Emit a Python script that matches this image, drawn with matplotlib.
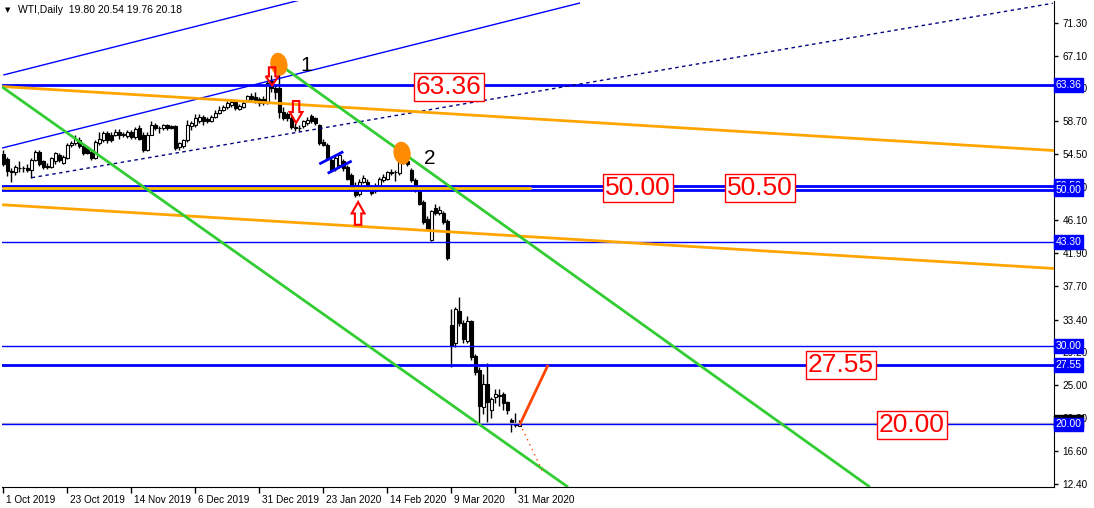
import numpy as np
import matplotlib
matplotlib.use("Agg")
import matplotlib.pyplot as plt
import matplotlib.transforms as mtransforms
from matplotlib.patches import Ellipse, Polygon

plt.rcParams["font.family"] = ["Liberation Sans", "DejaVu Sans"]

# WTI daily candles, one per trading day from 1 Oct 2019 (bar 0) to 1 Apr 2020
opens = np.array([
    54.5, 53.9, 52.4, 52.2, 52.8, 52.7, 52.7, 52.5, 53.8, 54.8,
    53.6, 52.9, 52.9, 53.6, 54.4, 53.4, 54.0, 55.7, 55.9, 56.3,
    55.5, 55.3, 54.8, 54.0, 55.9, 56.3, 57.2, 57.0, 57.0, 57.4,
    57.0, 56.8, 57.4, 56.7, 57.8, 57.0, 55.0, 57.0, 58.2, 57.8,
    57.8, 58.2, 58.1, 58.1, 55.4, 55.5, 56.3, 58.1, 58.3, 58.7,
    59.2, 59.0, 58.8, 59.3, 59.8, 60.2, 60.5, 60.8, 61.2, 60.3,
    60.6, 61.4, 61.9, 61.8, 61.6, 61.5, 61.1, 63.9, 63.0, 62.9,
    59.9, 59.7, 59.1, 58.0, 57.9, 58.1, 58.5, 59.4, 59.1, 58.2,
    56.1, 55.7, 53.8, 52.7, 53.1, 53.6, 52.9, 51.9, 50.6, 49.4,
    51.0, 51.0, 50.4, 49.8, 50.2, 51.2, 51.4, 52.1, 52.2, 52.1,
    53.9, 53.6, 52.5, 51.2, 49.9, 48.4, 46.3, 43.6, 47.6, 47.0,
    47.0, 46.0, 32.7, 30.4, 34.5, 33.0, 30.6, 33.2, 28.7, 27.0,
    22.2, 25.2, 21.9, 23.5, 23.6, 23.9, 22.9, 20.6, 20.0, 19.80])
highs = np.array([
    55.0, 54.1, 52.8, 53.1, 53.6, 53.0, 53.2, 54.0, 55.0, 55.0,
    53.8, 53.4, 54.2, 54.8, 54.6, 54.4, 55.9, 56.2, 56.9, 56.7,
    55.7, 55.5, 55.1, 56.3, 57.4, 57.5, 57.5, 57.3, 57.7, 57.7,
    57.3, 57.6, 57.6, 58.0, 58.3, 57.3, 57.3, 58.7, 58.5, 58.1,
    58.4, 58.4, 58.3, 58.2, 56.1, 56.5, 58.9, 58.8, 59.7, 59.6,
    59.5, 59.3, 59.5, 60.2, 60.7, 60.8, 61.3, 61.5, 61.4, 60.9,
    61.3, 62.1, 62.3, 62.4, 61.8, 61.9, 64.0, 64.6, 63.3, 65.9,
    60.5, 59.9, 59.4, 58.5, 58.3, 58.9, 59.2, 59.6, 59.3, 58.4,
    56.4, 55.9, 54.1, 54.3, 54.7, 53.9, 53.1, 52.1, 50.9, 51.3,
    51.9, 51.3, 50.6, 50.8, 51.6, 52.0, 52.4, 52.6, 52.5, 53.8,
    54.4, 54.0, 52.8, 51.5, 50.1, 48.7, 46.6, 47.4, 48.2, 47.9,
    47.3, 46.2, 34.8, 35.0, 36.3, 33.4, 33.8, 33.4, 29.0, 27.3,
    26.5, 27.9, 23.5, 24.5, 24.5, 24.2, 23.0, 20.8, 21.5, 20.54])
lows = np.array([
    53.0, 51.7, 51.0, 51.9, 52.2, 52.3, 52.2, 51.5, 53.6, 53.0,
    52.6, 52.6, 52.7, 53.3, 53.5, 53.2, 53.9, 55.4, 55.7, 55.3,
    54.4, 54.5, 53.8, 53.9, 55.7, 56.1, 56.0, 56.1, 56.8, 56.4,
    56.7, 56.6, 56.5, 56.5, 56.3, 54.8, 54.9, 56.9, 57.6, 57.2,
    57.6, 57.6, 57.7, 55.0, 55.1, 55.3, 56.1, 57.6, 58.0, 58.5,
    58.3, 58.5, 58.6, 59.1, 59.6, 60.0, 60.3, 60.6, 60.2, 60.1,
    60.4, 61.2, 61.3, 61.0, 60.7, 60.8, 60.9, 62.4, 61.6, 59.1,
    58.9, 58.8, 57.7, 57.5, 57.5, 57.8, 58.3, 58.5, 58.3, 55.7,
    55.5, 53.8, 52.2, 52.4, 52.9, 52.4, 51.2, 50.2, 49.1, 49.2,
    50.8, 50.2, 49.3, 49.6, 50.0, 51.0, 51.2, 51.9, 51.1, 51.9,
    53.3, 53.0, 51.0, 49.7, 48.0, 45.6, 44.8, 43.4, 46.8, 46.7,
    45.6, 41.0, 27.3, 29.9, 32.6, 30.4, 30.4, 28.2, 26.3, 20.0,
    21.3, 20.3, 20.8, 22.7, 22.4, 21.9, 21.4, 19.0, 19.7, 19.76])
closes = np.array([
    53.3, 52.4, 52.2, 52.9, 52.7, 52.8, 52.5, 53.8, 54.8, 53.3,
    52.9, 53.0, 54.0, 54.6, 53.8, 54.2, 55.7, 56.0, 56.5, 55.5,
    54.6, 54.7, 54.0, 56.1, 56.5, 57.2, 56.3, 56.3, 57.4, 57.0,
    57.0, 57.4, 56.7, 57.7, 56.5, 55.0, 57.0, 58.2, 57.8, 57.8,
    58.2, 57.8, 57.9, 55.3, 55.9, 56.3, 58.2, 58.5, 59.1, 59.2,
    58.7, 58.7, 59.3, 59.8, 60.2, 60.6, 61.0, 61.2, 60.4, 60.7,
    61.1, 61.9, 61.5, 61.2, 61.1, 61.0, 63.6, 63.0, 62.4, 59.9,
    59.1, 59.1, 58.0, 57.9, 57.8, 58.7, 58.9, 58.7, 58.5, 55.9,
    55.7, 54.0, 52.5, 54.0, 54.4, 52.7, 51.4, 50.4, 49.3, 51.0,
    51.5, 50.4, 49.5, 50.5, 51.4, 51.6, 52.2, 52.2, 52.3, 53.6,
    53.8, 53.2, 51.2, 49.9, 48.2, 45.9, 45.0, 47.2, 47.0, 47.4,
    45.8, 41.3, 30.0, 34.7, 33.0, 30.9, 33.2, 28.6, 26.7, 22.3,
    25.2, 22.9, 23.3, 23.9, 23.8, 22.7, 21.8, 20.0, 19.9, 20.18])

date_ticks = [0, 16, 32, 48, 64, 80, 96, 112, 128]
date_labels = ["1 Oct 2019", "23 Oct 2019", "14 Nov 2019", "6 Dec 2019", "31 Dec 2019",
               "23 Jan 2020", "14 Feb 2020", "9 Mar 2020", "31 Mar 2020"]
price_ticks = [71.30, 67.10, 62.90, 58.70, 54.50, 50.30, 46.10, 41.90, 37.70,
               33.40, 29.20, 25.00, 20.80, 16.60, 12.40]

# horizontal levels drawn on the chart
levels = [63.36, 50.50, 50.00, 43.30, 30.00, 27.55, 20.00]
level_widths = [2, 2, 2, 1, 1, 2, 1]
bid = 20.18

# big red labels: (text, bar, price)
level_notes = [("63.36", 111.4, 63.1), ("50.00", 158.7, 50.2), ("50.50", 189.2, 50.2),
               ("27.55", 209.4, 27.6), ("20.00", 227.2, 19.95)]

# trend lines as (bar, price) end points
blue_ch_top = [(0, 64.62), (75, 74.3)]
blue_ch_mid = [(-0.3, 55.3), (144.2, 73.82)]
blue_dotted = [(7.1, 51.51), (262.4, 73.78)]
orange_top = [(-0.3, 63.15), (262.7, 54.98)]
orange_low = [(-0.3, 48.06), (262.7, 39.92)]
gold_seg = [(-0.3, 50.25), (131.9, 50.25)]
green_top = [(69.2, 65.9), (216.7, 12.0)]
green_low = [(-0.3, 63.1), (141.2, 12.0)]
flag_a = [(79.0, 53.26), (85.0, 54.83)]
flag_b = [(81.1, 52.07), (87.1, 53.64)]
red_up = [(129.2, 20.06), (136.2, 27.6)]
red_down = [(129.2, 20.06), (134.9, 13.93)]

peaks = [(68.9, 66.0), (99.7, 54.65)]
peak_names = [("1", 75.7, 65.8), ("2", 106.7, 54.0)]
# hollow arrows: (bar, top price, bottom price, direction)
arrows = [(67.2, 65.6, 63.3, "down"), (73.2, 61.3, 58.5, "down"), (88.7, 48.4, 45.5, "up")]

W, H = 1094, 508
fig = plt.figure(figsize=(W / 100, H / 100), dpi=100)
fig.patch.set_facecolor("white")
ax = fig.add_axes([2 / W, 21 / H, 1052 / W, 486 / H])
ax.set_xlim(-0.33, 262.7)
ax.set_ylim(12.02, 74.07)

# candles
idx = np.arange(len(opens))
up = closes >= opens
ax.vlines(idx, lows, highs, color="black", lw=1, zorder=3)
body_lo = np.minimum(opens, closes)
body_h = np.maximum(np.abs(closes - opens), 0.06)
ax.bar(idx, body_h, 0.72, bottom=body_lo, color=np.where(up, "white", "black"),
       edgecolor="black", lw=0.8, zorder=4)

# horizontal lines
for lv, lw in zip(levels, level_widths):
    ax.axhline(lv, color="#0000FF", lw=lw, zorder=5)
ax.axhline(bid, color="#C0C0C0", lw=1, zorder=4.5)


def seg(pts, **kw):
    (x0, y0), (x1, y1) = pts
    ax.plot([x0, x1], [y0, y1], solid_capstyle="butt", **kw)


seg(blue_ch_top, color="#0000FF", lw=1, zorder=5)
seg(blue_ch_mid, color="#0000FF", lw=1, zorder=5)
seg(blue_dotted, color="#000080", lw=1, ls=(0, (2.5, 2.5)), zorder=5)
seg(orange_top, color="#FFA500", lw=2, zorder=5)
seg(orange_low, color="#FFA500", lw=2, zorder=5)
seg(gold_seg, color="#FFC000", lw=2, zorder=5)
seg(green_top, color="#32CD32", lw=2, zorder=5)
seg(green_low, color="#32CD32", lw=2, zorder=5)
seg(flag_a, color="#0000FF", lw=2, zorder=5)
seg(flag_b, color="#0000FF", lw=2, zorder=5)
seg(red_up, color="#FF4500", lw=2, zorder=5)
seg(red_down, color="#FF4500", lw=1, ls=(0, (1, 3)), zorder=5)

for cx, cy in peaks:
    ax.add_patch(Ellipse((cx, cy), 4.0, 2.7, angle=-8, color="#FF8C00", zorder=6))
for txt, bx, py in peak_names:
    ax.text(bx, py, txt, fontsize=15, ha="center", va="center", zorder=7)

for bx, top, bot, d in arrows:
    w = 3.2
    h = top - bot
    if d == "down":
        pts = [(bx - w / 4, top), (bx + w / 4, top), (bx + w / 4, top - h / 2), (bx + w / 2, top - h / 2),
               (bx, bot), (bx - w / 2, top - h / 2), (bx - w / 4, top - h / 2)]
    else:
        pts = [(bx - w / 4, bot), (bx + w / 4, bot), (bx + w / 4, bot + h / 2), (bx + w / 2, bot + h / 2),
               (bx, top), (bx - w / 2, bot + h / 2), (bx - w / 4, bot + h / 2)]
    ax.add_patch(Polygon(pts, closed=True, fill=False, edgecolor="#FF0000", lw=1.5, zorder=7))

for txt, bx, py in level_notes:
    ax.text(bx, py, txt, fontsize=19, color="#FF0000",
            ha="center", va="center", zorder=8,
            bbox=dict(boxstyle="square,pad=0.08", fc="white", ec="#FF0000", lw=1))

# axes styling
for s in ["top", "left"]:
    ax.spines[s].set_visible(False)
ax.spines["right"].set_color("black")
ax.spines["bottom"].set_color("black")
ax.yaxis.tick_right()
ax.set_yticks(price_ticks)
ax.set_yticklabels([f"{v:.2f}" for v in price_ticks])
ax.tick_params(axis="y", length=3, width=1, pad=3, labelsize=7.2, colors="black")
ax.set_xticks(date_ticks)
ax.set_xticklabels(date_labels)
ax.tick_params(axis="x", length=4, width=1, pad=2, labelsize=7.2, colors="black")
offset = mtransforms.ScaledTranslation(2 / 72, 0, fig.dpi_scale_trans)
for lbl in ax.get_xticklabels():
    lbl.set_horizontalalignment("left")
    lbl.set_transform(lbl.get_transform() + offset)

# price tags on the scale (bid tag sits mostly under the 20.00 tag)
trans = mtransforms.blended_transform_factory(ax.transAxes, ax.transData)
ax.text(1.0015, bid + 0.25, "20.18", transform=trans, fontsize=7.5, color="black", va="center",
        ha="left", clip_on=False, zorder=9,
        bbox=dict(boxstyle="square,pad=0.15", fc="black", ec="black"))
for lv in levels:
    ax.text(1.0015, lv, f"{lv:.2f}", transform=trans, fontsize=7.5, color="white", va="center",
            ha="left", clip_on=False, zorder=10,
            bbox=dict(boxstyle="square,pad=0.18", fc="#0000FF", ec="#0000FF"))

fig.text(5 / W, 1 - 10 / H, "\u25bc", fontsize=5, va="center", ha="left", family="DejaVu Sans")
fig.text(18 / W, 1 - 10 / H, "WTI,Daily  19.80 20.54 19.76 20.18", fontsize=7.5, va="center", ha="left")

fig.savefig("out.png", dpi=100, facecolor="white")
